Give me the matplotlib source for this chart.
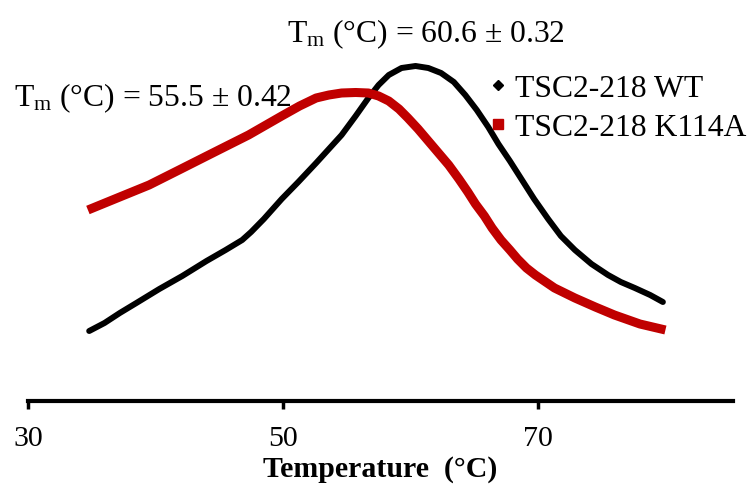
import numpy as np
import matplotlib.pyplot as plt

plt.rcParams['font.family'] = 'Liberation Serif'
plt.rcParams['mathtext.fontset'] = 'custom'
plt.rcParams['mathtext.rm'] = 'Liberation Serif'
plt.rcParams['mathtext.it'] = 'Liberation Serif:italic'

# melt curves (arbitrary fluorescence units)
tempWT = [34.8, 36.0, 37.2, 38.5, 40.3, 42.1, 44.0, 45.5, 46.8, 47.5, 48.5,
          49.9, 51.2, 52.6, 54.6, 55.7, 56.7, 57.5, 58.3, 59.3, 60.4, 61.4,
          62.4, 63.4, 64.3, 65.2, 66.1, 66.9, 67.8, 68.7, 69.7, 70.8, 71.8,
          72.9, 74.2, 75.5, 76.5, 77.6, 78.8, 79.8]
fluorWT = [70, 78, 88, 98, 112, 125, 140, 151, 161, 169, 182,
           202, 219, 238, 266, 285, 303, 316, 326, 333, 335, 333,
           328, 319, 306, 291, 274, 257, 240, 222, 202, 182, 165,
           151, 137, 126, 119, 113, 106, 99]

tempK114A = [34.7, 37.0, 39.5, 42.0, 44.8, 47.3, 49.9, 51.3, 52.6, 53.6,
             54.6, 55.7, 56.7, 57.5, 58.3, 59.1, 59.8, 60.6, 61.4, 62.2,
             63.0, 63.8, 64.5, 65.1, 65.8, 66.4, 67.1, 67.8, 68.4, 69.1,
             69.8, 71.3, 72.9, 74.5, 76.0, 78.0, 80.0]
fluorK114A = [191, 203, 216, 232, 250, 266, 285, 295, 303, 306,
              308, 308.5, 308, 305, 300, 292, 283, 272, 260, 248,
              236, 222, 209, 197, 185, 173, 161, 151, 142, 133,
              126, 113, 103, 94, 86, 77, 71]

labels = ["TSC2-218 WT", "TSC2-218 K114A"]
tmWT = "T$_\\mathrm{m}$ (°C) = 60.6 ± 0.32"
tmK114A = "T$_\\mathrm{m}$ (°C) = 55.5 ± 0.42"

fig = plt.figure(figsize=(7.49, 4.85), dpi=100)
ax = fig.add_axes([28/749, 83/485, 705/749, 400/485])

ax.plot(tempWT, fluorWT, color="black", lw=4.3, solid_capstyle="round",
        solid_joinstyle="round", zorder=2)
ax.plot(tempK114A, fluorK114A, color="#C00000", lw=6.5, solid_capstyle="butt",
        solid_joinstyle="round", zorder=3)

ax.set_xlim(30, 85.3)
ax.set_ylim(0, 400)
ax.set_xticks([30, 50, 70])
ax.set_yticks([])
for s in ["top", "right", "left"]:
    ax.spines[s].set_visible(False)
ax.spines["bottom"].set_linewidth(3)
ax.tick_params(axis="x", direction="out", length=6, width=2.5, labelsize=21.5, pad=11)
ax.set_xlabel("Temperature  (°C)", fontsize=21.5, fontweight="bold", labelpad=3)

fig.text(426/749, 1 - 42/485, tmWT, fontsize=22.8, ha="center", va="baseline")
fig.text(153/749, 1 - 106/485, tmK114A, fontsize=22.8, ha="center", va="baseline")

# legend built from marker-only handles
h1, = ax.plot([], [], "D", color="black", ms=5)
h2, = ax.plot([], [], "s", color="#C00000", ms=6.5)
fig.legend([h1, h2], labels, loc="upper left", bbox_to_anchor=(490/749, 1 - 75/485),
           frameon=False, fontsize=22.8, handlelength=0.5, handletextpad=0.29,
           labelspacing=0.3, borderpad=0, borderaxespad=0)

fig.savefig("out.png", dpi=100)
